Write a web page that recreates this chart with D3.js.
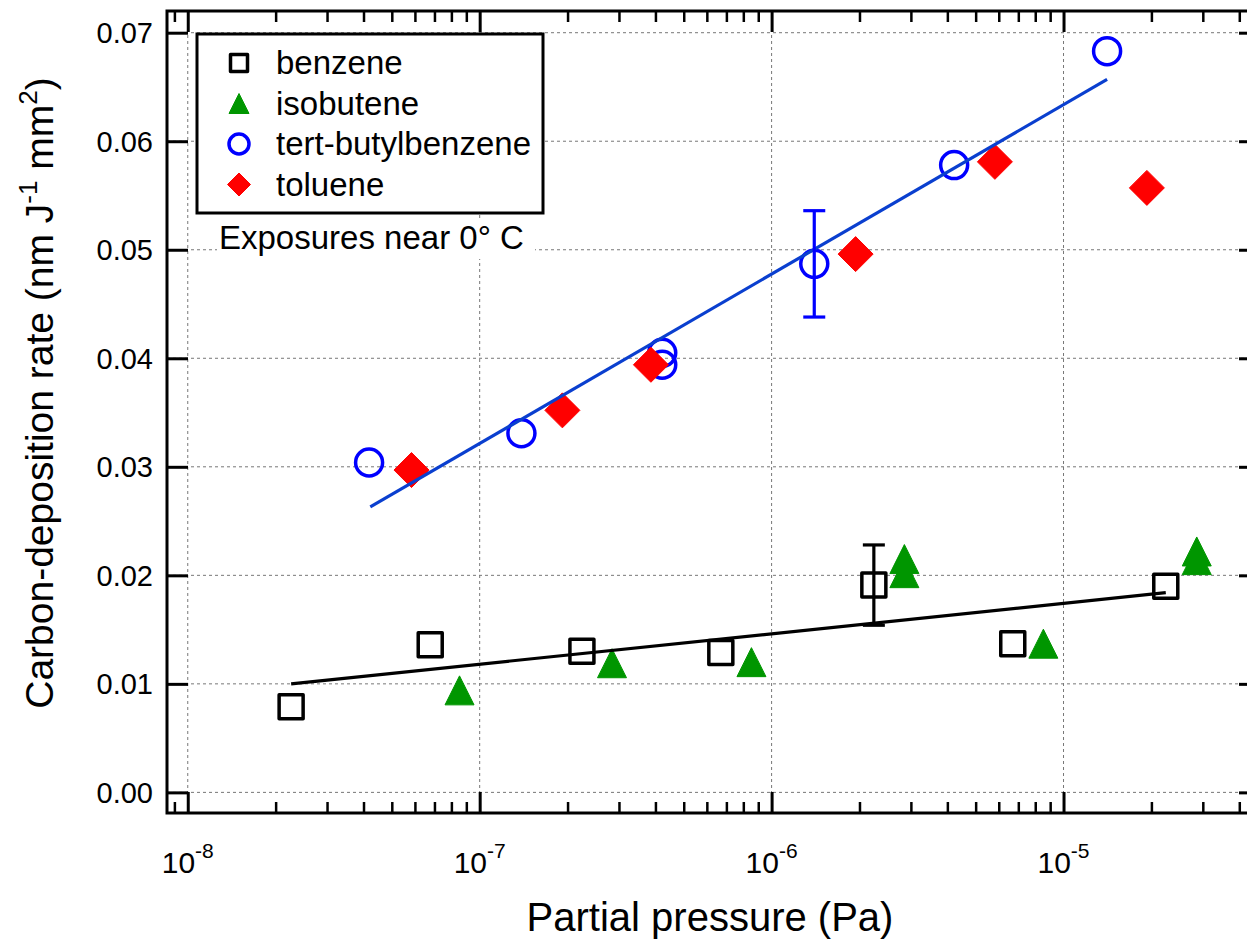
<!DOCTYPE html>
<html>
<head>
<meta charset="utf-8">
<script src="https://cdn.jsdelivr.net/npm/d3@7"></script>
<style>
  body { margin: 0; background: #fff; }
  svg { display: block; font-family: "Liberation Sans", Arial, sans-serif; }
</style>
</head>
<body>
<svg id="chart" width="1247" height="941"></svg>
<script>
// ---- data ----
const benzeneP = [2.26e-8, 6.77e-8, 2.24e-7, 6.7e-7, 2.24e-6, 6.7e-6, 2.24e-5];
const benzeneRate = [0.0079, 0.0136, 0.0130, 0.0129, 0.0191, 0.0137, 0.0190];
const benzeneErr = [null, null, null, null, 0.0037, null, null];

const isobuteneP = [8.53e-8, 2.84e-7, 8.53e-7, 2.85e-6, 2.85e-6, 8.53e-6, 2.86e-5, 2.86e-5];
const isobuteneRate = [0.0094, 0.0119, 0.0120, 0.0215, 0.0202, 0.0137, 0.0222, 0.0214];

const tbbP = [4.18e-8, 1.39e-7, 4.22e-7, 4.22e-7, 1.40e-6, 4.22e-6, 1.41e-5];
const tbbRate = [0.0304, 0.0331, 0.0405, 0.0394, 0.0487, 0.0578, 0.0683];
const tbbErr = [null, null, null, null, 0.0049, null, null];

const tolueneP = [5.84e-8, 1.92e-7, 3.86e-7, 1.94e-6, 5.82e-6, 1.93e-5];
const tolueneRate = [0.0297, 0.0352, 0.0394, 0.0496, 0.0581, 0.0557];

// straight-line fits (rate vs log pressure), end points
const fitBenzeneP = [2.26e-8, 2.24e-5];
const fitBenzeneRate = [0.0100, 0.0184];
const fitTbbP = [4.22e-8, 1.41e-5];
const fitTbbRate = [0.0263, 0.0657];

const xMajor = [1e-8, 1e-7, 1e-6, 1e-5];
const yMajor = [0, 0.01, 0.02, 0.03, 0.04, 0.05, 0.06, 0.07];

const legendNames = ['benzene', 'isobutene', 'tert-butylbenzene', 'toluene'];

// ---- layout ----
const svg = d3.select('#chart');
const L = 167, T = 11, R = 1260, B = 813;

const x = d3.scaleLog().domain([8.49e-9, 4.71e-5]).range([L, R]);
const y = d3.scaleLinear().domain([-0.0019, 0.072]).range([B, T]);

const xMinor = [];
for (let e = -9; e <= -5; e++) {
  for (let m = 2; m <= 9; m++) {
    const v = m * Math.pow(10, e);
    if (v > x.domain()[0] && v < x.domain()[1]) xMinor.push(v);
  }
}

// gridlines
const grid = svg.append('g')
  .attr('stroke', '#777')
  .attr('stroke-width', 1)
  .attr('stroke-dasharray', '3,3');
grid.selectAll('line.gx').data(xMajor).join('line')
  .attr('x1', d => x(d)).attr('x2', d => x(d))
  .attr('y1', T).attr('y2', B);
grid.selectAll('line.gy').data(yMajor).join('line')
  .attr('x1', L).attr('x2', R)
  .attr('y1', d => y(d)).attr('y2', d => y(d));

// ticks (inward) on all four sides
function tickAxis(gen, tr, vals, size, width) {
  const g = svg.append('g').attr('transform', tr)
    .call(gen.tickValues(vals).tickSize(-size).tickSizeOuter(0).tickFormat(''));
  g.select('.domain').remove();
  g.selectAll('line').attr('stroke', '#000').attr('stroke-width', width);
  return g;
}
tickAxis(d3.axisBottom(x), `translate(0,${B})`, xMajor, 21, 3);
tickAxis(d3.axisBottom(x), `translate(0,${B})`, xMinor, 11, 2.5);
tickAxis(d3.axisTop(x), `translate(0,${T})`, xMajor, 21, 3);
tickAxis(d3.axisTop(x), `translate(0,${T})`, xMinor, 11, 2.5);
tickAxis(d3.axisLeft(y), `translate(${L},0)`, yMajor, 21, 3);
tickAxis(d3.axisRight(y), `translate(${R},0)`, yMajor, 21, 3);

// frame
svg.append('rect')
  .attr('x', L).attr('y', T).attr('width', R - L).attr('height', B - T)
  .attr('fill', 'none').attr('stroke', '#000').attr('stroke-width', 3);

// tick labels
svg.append('g').selectAll('text').data(yMajor).join('text')
  .attr('x', L - 14).attr('y', d => y(d)).attr('dy', '0.36em')
  .attr('text-anchor', 'end').attr('font-size', 29)
  .text(d => d3.format('.2f')(d));

const xl = svg.append('g').selectAll('text').data(xMajor).join('text')
  .attr('x', d => x(d)).attr('y', B + 60)
  .attr('text-anchor', 'middle').attr('font-size', 30);
xl.append('tspan').text('10');
xl.append('tspan').attr('dy', -15).attr('font-size', 21)
  .text(d => Math.round(Math.log10(d)));

// axis titles
svg.append('text')
  .attr('x', 710).attr('y', 931)
  .attr('text-anchor', 'middle').attr('font-size', 40)
  .text('Partial pressure (Pa)');

const yt = svg.append('text')
  .attr('transform', `translate(53,393) rotate(-90)`)
  .attr('text-anchor', 'middle').attr('font-size', 39);
yt.append('tspan').text('Carbon-deposition rate (nm J');
yt.append('tspan').attr('dy', -16).attr('font-size', 26).text('-1');
yt.append('tspan').attr('dy', 16).text(' mm');
yt.append('tspan').attr('dy', -16).attr('font-size', 26).text('2');
yt.append('tspan').attr('dy', 16).text(')');

// ---- markers ----
function marker(shape, s) {
  const h = s / 2;
  if (shape === 'square') return `M${-h},${-h}H${h}V${h}H${-h}Z`;
  if (shape === 'triangle') return `M0,${-h}L${h},${h}L${-h},${h}Z`;
  if (shape === 'diamond') return `M0,${-h}L${h},0L0,${h}L${-h},0Z`;
  return `M${h},0A${h},${h} 0 1,1 ${-h},0A${h},${h} 0 1,1 ${h},0Z`;
}

const series = [
  { P: benzeneP, V: benzeneRate, shape: 'square', size: 24, fill: '#fff', stroke: '#000', sw: 3.5 },
  { P: isobuteneP, V: isobuteneRate, shape: 'triangle', size: 29, fill: '#009600', stroke: '#009600', sw: 1 },
  { P: tbbP, V: tbbRate, shape: 'circle', size: 27, fill: 'none', stroke: '#0000ff', sw: 3.5 },
  { P: tolueneP, V: tolueneRate, shape: 'diamond', size: 35, fill: '#ff0000', stroke: '#ff0000', sw: 1 }
];

series.forEach(s => {
  svg.append('g').selectAll('path').data(s.P.map((p, i) => [p, s.V[i]])).join('path')
    .attr('transform', d => `translate(${x(d[0])},${y(d[1])})`)
    .attr('d', marker(s.shape, s.size))
    .attr('fill', s.fill).attr('stroke', s.stroke)
    .attr('stroke-width', s.sw).attr('stroke-linejoin', 'round');
});

// fit lines
const line = d3.line().x(d => x(d[0])).y(d => y(d[1]));
svg.append('path').datum(fitBenzeneP.map((p, i) => [p, fitBenzeneRate[i]]))
  .attr('d', line).attr('fill', 'none').attr('stroke', '#000').attr('stroke-width', 3.2);
svg.append('path').datum(fitTbbP.map((p, i) => [p, fitTbbRate[i]]))
  .attr('d', line).attr('fill', 'none').attr('stroke', '#0a3fcf').attr('stroke-width', 3.2);

// error bars
function errorBars(P, V, E, color) {
  const d = P.map((p, i) => [p, V[i], E[i]]).filter(r => r[2] != null);
  const g = svg.append('g').attr('stroke', color).attr('stroke-width', 3.2);
  d.forEach(r => {
    const cx = x(r[0]);
    g.append('line').attr('x1', cx).attr('x2', cx).attr('y1', y(r[1] - r[2])).attr('y2', y(r[1] + r[2]));
    [r[1] - r[2], r[1] + r[2]].forEach(v => {
      g.append('line').attr('x1', cx - 11).attr('x2', cx + 11).attr('y1', y(v)).attr('y2', y(v));
    });
  });
}
errorBars(benzeneP, benzeneRate, benzeneErr, '#000');
errorBars(tbbP, tbbRate, tbbErr, '#0000ff');

// ---- legend ----
const lg = svg.append('g');
lg.append('rect').attr('x', 197).attr('y', 34).attr('width', 346).attr('height', 179)
  .attr('fill', '#fff').attr('stroke', '#000').attr('stroke-width', 3);
legendNames.forEach((name, i) => {
  const s = series[i];
  const cy = 63 + i * 40.5;
  lg.append('path').attr('transform', `translate(239,${cy})`)
    .attr('d', marker(s.shape, s.shape === 'diamond' ? 23 : (s.shape === 'square' ? 17 : 20)))
    .attr('fill', s.fill).attr('stroke', s.stroke)
    .attr('stroke-width', s.sw).attr('stroke-linejoin', 'round');
  lg.append('text').attr('x', 276).attr('y', cy + 11).attr('font-size', 33).text(name);
});

// note
svg.append('rect').attr('x', 217).attr('y', 221).attr('width', 318).attr('height', 38).attr('fill', '#fff');
svg.append('text').attr('x', 219).attr('y', 249).attr('font-size', 33).text('Exposures near 0° C');
</script>
</body>
</html>
